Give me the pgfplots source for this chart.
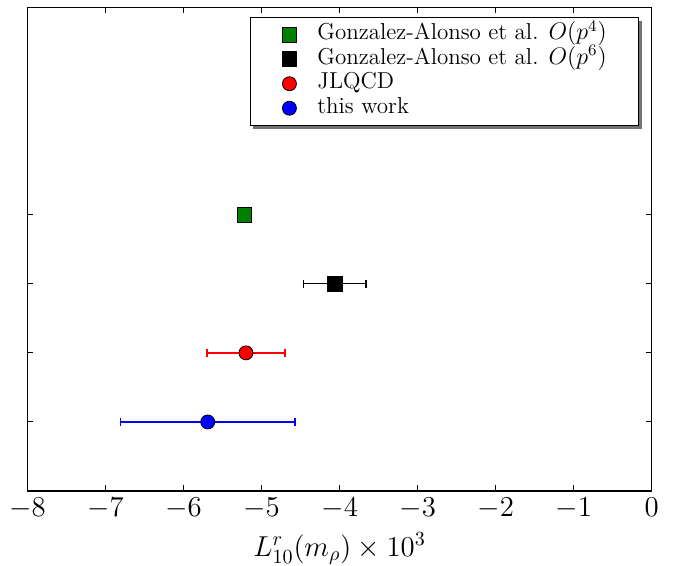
\documentclass[border=0pt]{standalone}
\usepackage{pgfplots}
\pgfplotsset{compat=1.18}
\usetikzlibrary{shadows}

\definecolor{mplgreen}{rgb}{0,0.5,0}

\begin{document}
\begin{tikzpicture}
  \begin{axis}[
    scale only axis,
    width=312.1pt,
    height=241.9pt,
    xmin=-8, xmax=0,
    ymin=0, ymax=7,
    xtick={-8,-7,...,0},
    ytick={1,2,3,4},
    yticklabels={},
    xtick pos=both,
    ytick pos=both,
    tick align=inside,
    major tick length=2.9pt,
    axis line style={line width=0.6pt},
    tick style={black, line width=0.5pt},
    tick label style={font=\fontsize{14}{16}\selectfont},
    label style={font=\fontsize{14}{16}\selectfont},
    xlabel={$L^r_{10}(m_\rho)\times 10^3$},
    legend style={
      at={(0.98,0.98)}, anchor=north east,
      draw=black, line width=0.5pt, fill=white,
      drop shadow={shadow xshift=1.6pt, shadow yshift=-1.6pt, fill=black!55, opacity=1},
      inner xsep=16pt, inner ysep=2.5pt,
      font=\fontsize{11.5}{13}\selectfont,
      cells={anchor=west},
      nodes={inner sep=0pt, text height=8.7pt, text depth=3.55pt},
      column sep=10.3pt,
    },
    legend image code/.code={
      \draw[#1] plot coordinates {(0pt,0pt)};
    },
  ]

  % Gonzalez-Alonso O(p^4)
  \addplot[forget plot, only marks, mark=square*, mark size=3.7pt,
    mark options={fill=mplgreen, draw=black, line width=0.4pt}]
    coordinates {(-5.22,4)};

  % Gonzalez-Alonso O(p^6)
  \addplot[forget plot, only marks, mark=square*, mark size=3.7pt,
    mark options={fill=black, draw=black, line width=0.4pt},
    error bars/.cd, x dir=both, x explicit,
    error bar style={black, line width=0.65pt},
    error mark options={rotate=90, mark size=2pt, black, line width=0.65pt}]
    coordinates {(-4.06,3) +- (0.40,0)};

  % JLQCD
  \addplot[forget plot, only marks, mark=*, mark size=3.5pt,
    mark options={fill=red, draw=black, line width=0.4pt},
    error bars/.cd, x dir=both, x explicit,
    error bar style={red, line width=0.65pt},
    error mark options={rotate=90, mark size=2pt, red, line width=0.65pt}]
    coordinates {(-5.20,2) +- (0.50,0)};

  % this work
  \addplot[forget plot, only marks, mark=*, mark size=3.5pt,
    mark options={fill=blue, draw=black, line width=0.4pt},
    error bars/.cd, x dir=both, x explicit,
    error bar style={blue, line width=0.65pt},
    error mark options={rotate=90, mark size=2pt, blue, line width=0.65pt}]
    coordinates {(-5.69,1) +- (1.12,0)};

  % legend (markers only, as in the original)
  \addlegendimage{only marks, mark=square*, mark size=3.7pt,
    mark options={fill=mplgreen, draw=black, line width=0.4pt}}
  \addlegendentry{Gonzalez-Alonso et al. $O(p^4)$}
  \addlegendimage{only marks, mark=square*, mark size=3.7pt,
    mark options={fill=black, draw=black, line width=0.4pt}}
  \addlegendentry{Gonzalez-Alonso et al. $O(p^6)$}
  \addlegendimage{only marks, mark=*, mark size=3.5pt,
    mark options={fill=red, draw=black, line width=0.4pt}}
  \addlegendentry{JLQCD}
  \addlegendimage{only marks, mark=*, mark size=3.5pt,
    mark options={fill=blue, draw=black, line width=0.4pt}}
  \addlegendentry{this work}

  \end{axis}
  \pgfresetboundingbox
  \path[use as bounding box]
    ([xshift=-13.75pt,yshift=-37pt]current axis.south west)
    rectangle ([xshift=13.65pt,yshift=3.65pt]current axis.north east);
\end{tikzpicture}
\end{document}
